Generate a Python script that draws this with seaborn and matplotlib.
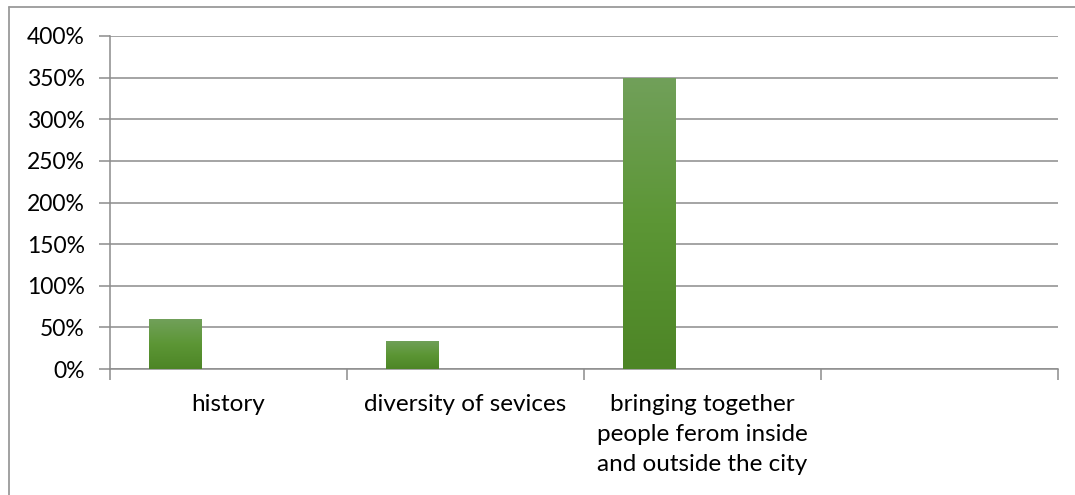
import numpy as np
import pandas as pd
import matplotlib
matplotlib.use("Agg")
import matplotlib.pyplot as plt
import seaborn as sns
from matplotlib.lines import Line2D
from matplotlib.colors import LinearSegmentedColormap

categories = ["history", "diversity of sevices",
              "bringing together\npeople ferom inside\nand outside the city", ""]
series_names = ["Series1", "Series2", "Series3"]
series1 = [0.60, 0.34, 3.50, np.nan]
series2 = [np.nan, np.nan, np.nan, np.nan]
series3 = [np.nan, np.nan, np.nan, np.nan]
y_ticks = [0, 0.5, 1.0, 1.5, 2.0, 2.5, 3.0, 3.5, 4.0]

rows = []
for name, vals in zip(series_names, [series1, series2, series3]):
    for cat, v in zip(categories, vals):
        rows.append({"category": cat, "series": name, "value": v})
df = pd.DataFrame(rows)

sns.set_theme(style="white")
plt.rcParams["font.family"] = ["Lato", "DejaVu Sans"]

fig = plt.figure(figsize=(10.75, 4.95), dpi=100)
ax = fig.add_axes([0.1023, 0.2545, 0.8819, 0.6728])

sns.barplot(data=df, x="category", y="value", hue="series", order=categories,
            hue_order=series_names, width=0.667, palette=["#5a8f35"] * 3,
            legend=False, ax=ax, errorbar=None, saturation=1)

# vertical gradient fill for bars
cmap = LinearSegmentedColormap.from_list("g", ["#4d8526", "#5c9635", "#71a05a"])
grad = np.linspace(0, 1, 256).reshape(-1, 1)
for p in list(ax.patches):
    h = p.get_height()
    if not np.isfinite(h) or h <= 0:
        continue
    x0, w = p.get_x(), p.get_width()
    im = ax.imshow(grad, cmap=cmap, aspect="auto", origin="lower",
                   extent=[x0, x0 + w, 0, h], zorder=3)
    im.set_clip_path(p)
    p.set_facecolor("none")
    p.set_edgecolor("none")

ax.set_xlim(-0.5, 3.5)
ax.set_ylim(0, 4.0)
ax.set_yticks(y_ticks)
ax.set_yticklabels([f"{int(round(t * 100))}%" for t in y_ticks])
ax.yaxis.grid(True, color="#8c8c8c", linewidth=1.1)
ax.set_axisbelow(True)
ax.set_xlabel("")
ax.set_ylabel("")

ax.set_xticks(range(len(categories)))
ax.set_xticklabels(categories, linespacing=1.52)
ax.set_xticks(np.arange(-0.5, 3.6, 1.0), minor=True)
ax.tick_params(axis="x", which="major", length=0, pad=18, labelsize=17.5, colors="black")
ax.tick_params(axis="x", which="minor", length=8, width=1.1, color="#8c8c8c", direction="out", bottom=True)
ax.tick_params(axis="y", which="major", length=8, width=1.1, color="#8c8c8c", direction="out",
               left=True, labelsize=16.5, pad=10, labelcolor="black")

for s in ["top", "right"]:
    ax.spines[s].set_visible(False)
for s in ["left", "bottom"]:
    ax.spines[s].set_color("#8c8c8c")
    ax.spines[s].set_linewidth(1.1)

# outer frame: top and left edges only
x_left = 8.5 / 1075
y_top = 1 - 6.5 / 495
fig.add_artist(Line2D([x_left, 1], [y_top, y_top], transform=fig.transFigure,
                      color="#9a9a9a", linewidth=1.3))
fig.add_artist(Line2D([x_left, x_left], [0, y_top], transform=fig.transFigure,
                      color="#9a9a9a", linewidth=1.3))

fig.savefig("out.png", dpi=100)
